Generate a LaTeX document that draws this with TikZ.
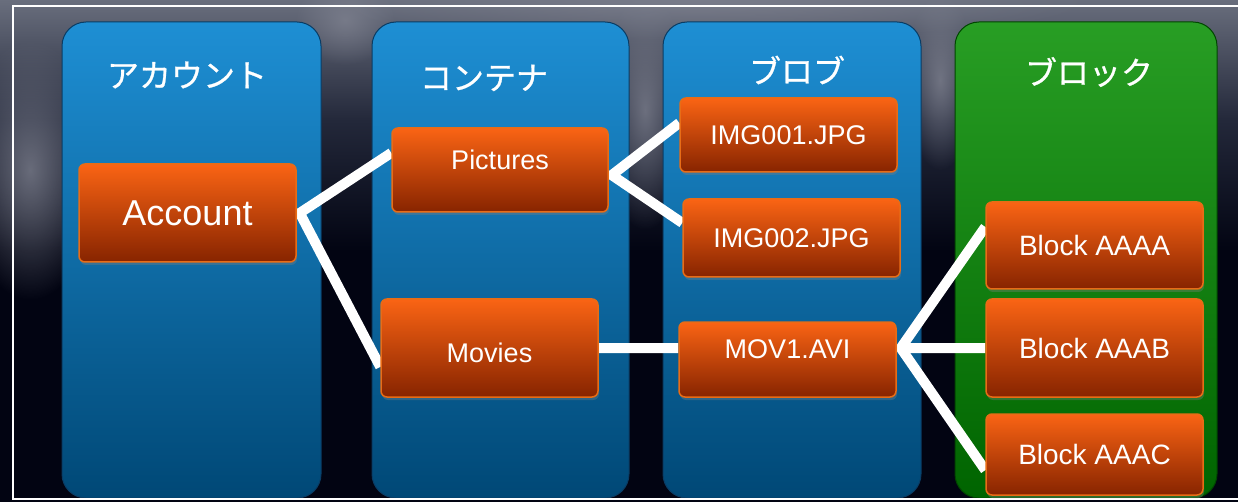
\documentclass[tikz,border=0pt]{standalone}
\usepackage{fontspec}
\setmainfont{Liberation Sans}
\newfontfamily\jpfont[FakeBold=0.8]{Noto Sans CJK JP}
\usetikzlibrary{calc,shadows,fadings}
\definecolor{bgtop}{RGB}{105,110,125}
\definecolor{bgmid}{RGB}{35,40,58}
\definecolor{bgbot}{RGB}{2,4,18}
\definecolor{cloud}{RGB}{125,128,142}
\definecolor{bluetop}{RGB}{30,143,212}
\definecolor{bluebot}{RGB}{0,72,118}
\definecolor{blueline}{RGB}{10,60,100}
\definecolor{greentop}{RGB}{40,158,36}
\definecolor{greenbot}{RGB}{0,100,0}
\definecolor{greenline}{RGB}{0,70,0}
\definecolor{orangetop}{RGB}{250,100,20}
\definecolor{orangebot}{RGB}{135,36,0}
\definecolor{orangeline}{RGB}{232,108,22}
\tikzfading[name=puff, inner color=transparent!0, outer color=transparent!100]
\pgfdeclarelayer{back}
\pgfdeclarelayer{mid}
\pgfsetlayers{back,mid,main}
\pgfdeclareverticalshading{bgshade}{100bp}{color(0bp)=(bgbot); color(50bp)=(bgbot); color(63bp)=(bgmid); color(75bp)=(bgtop); color(100bp)=(bgtop)}
\newcommand\txtup[2]{\raisebox{#1}[\height][\depth]{#2}}
\begin{document}
\begin{tikzpicture}[x=1pt,y=-1pt,
  column/.style={rectangle, rounded corners=24pt, minimum width=#1, minimum height=476,
    draw=blueline, line width=1pt, top color=bluetop, bottom color=bluebot},
  greencol/.style={column=#1, draw=greenline, top color=greentop, bottom color=greenbot},
  title/.style={text=white, inner sep=0pt, font=\jpfont\fontsize{32}{38}\selectfont},
  box/.style={rectangle, rounded corners=6pt, minimum width=217, draw=orangeline, line width=1.5pt,
    top color=orangetop, bottom color=orangebot, text=white, inner sep=0pt,
    font=\fontsize{27}{32}\selectfont,
    drop shadow={opacity=0.35, shadow xshift=1pt, shadow yshift=-3pt}},
  conn/.style={draw=white, line width=10pt, line join=miter},
  cloudpuff/.style={fill=cloud, path fading=puff, opacity=0.8}
]
\useasboundingbox (0,0) rectangle (1238,502);
\clip (0,0) rectangle (1238,502);

% orange boxes
\node[box, minimum height=98, font=\fontsize{36}{42}\selectfont] (acc) at (187.5,213) {Account};
\node[box, minimum width=216, minimum height=84] (pic) at (500,170) {\txtup{10pt}{Pictures}};
\node[box, minimum height=98] (mov) at (489.5,348) {\txtup{-5pt}{Movies}};
\node[box, minimum height=74] (img1) at (788.5,135) {IMG001.JPG};
\node[box, minimum height=78] (img2) at (791.5,238) {IMG002.JPG};
\node[box, minimum height=75] (mov1) at (787.5,359.5) {\txtup{10pt}{MOV1.AVI}};
\node[box, minimum height=87, font=\fontsize{28}{33}\selectfont] (bA) at (1094.5,245.5) {Block AAAA};
\node[box, minimum height=98, font=\fontsize{28}{33}\selectfont] (bB) at (1094.5,348) {Block AAAB};
\node[box, minimum height=81, font=\fontsize{28}{33}\selectfont] (bC) at (1094.5,454.5) {Block AAAC};

\begin{pgfonlayer}{back}
\shade[shading=bgshade] (0,0) rectangle (1238,502);
\fill[cloudpuff] (30,170) ellipse (70 and 130);
\fill[cloudpuff] (645,110) ellipse (45 and 120);
\fill[cloudpuff] (345,20) ellipse (50 and 45);
\fill[cloudpuff] (940,80) ellipse (35 and 90);
\fill[cloudpuff] (700,0) ellipse (400 and 40);
\node[column=259] (c1) at (191.5,260) {};
\node[column=257] (c2) at (500.5,260) {};
\node[column=258] (c3) at (792,260) {};
\node[greencol=262] (c4) at (1086,260) {};
\draw[white, line width=2pt] (13,6) rectangle (1250,499);
\node[title] (t1) at (187,75) {アカウント};
\node[title] (t2) at (484,78) {コンテナ};
\node[title] (t3) at (797,70) {ブロブ};
\node[title] (t4) at (1089,72) {ブロック};
\end{pgfonlayer}

\coordinate (accE) at ($(acc.east)+(3,0)$);
\coordinate (picW) at ($(pic.north west)!0.30!(pic.south west)$);
\coordinate (movW) at ($(mov.north west)!0.69!(mov.south west)$);
\coordinate (picE) at ($(pic.north east)!0.56!(pic.south east)+(3,0)$);
\coordinate (img1W) at ($(img1.north west)!0.34!(img1.south west)$);
\coordinate (img2W) at ($(img2.north west)!0.31!(img2.south west)$);
\coordinate (movE) at (mov.east);
\coordinate (mov1W) at ($(mov1.north west)!0.35!(mov1.south west)$);
\coordinate (mov1E) at ($(mov1.north east)!0.35!(mov1.south east)+(4,0)$);
\coordinate (bAW) at ($(bA.north west)!0.29!(bA.south west)$);
\coordinate (bBW) at (bB.west);
\coordinate (bCW) at ($(bC.north west)!0.69!(bC.south west)$);

\begin{pgfonlayer}{mid}
\draw[conn] (picW) -- (accE) -- (movW);
\draw[conn] (img1W) -- (picE) -- (img2W);
\draw[conn] (movE) -- (mov1W);
\draw[conn] (bAW) -- (mov1E) -- (bCW);
\draw[conn] (mov1E) -- (bBW);
\end{pgfonlayer}
\end{tikzpicture}
\end{document}
